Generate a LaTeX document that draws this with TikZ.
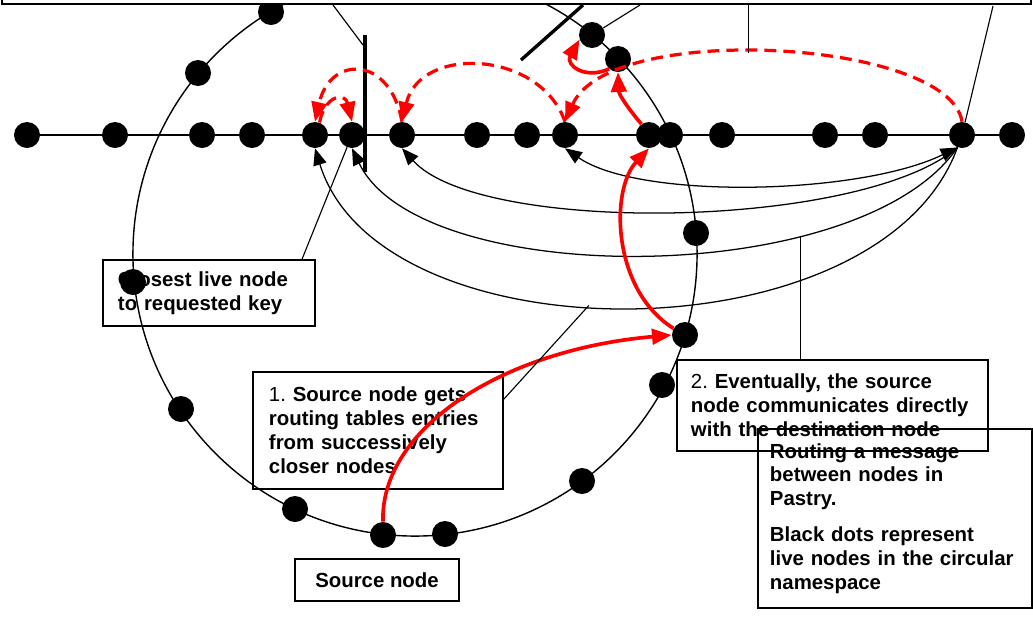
\documentclass[tikz,border=0pt]{standalone}
\usepackage{fontspec}
\setmainfont{Liberation Sans}
\usetikzlibrary{arrows.meta}
\tikzset{
  dot/.style={circle, fill=black, inner sep=0pt, minimum size=0.65cm},
  note/.style={draw, line width=1.2pt, align=left, inner xsep=0.375cm, inner ysep=0pt,
    font=\fontsize{14.5pt}{17pt}\selectfont\bfseries\frenchspacing},
  redline/.style={red, line width=2.6pt, >={Triangle[length=14pt,width=11pt]}},
  reddash/.style={red, line width=2.3pt, dash pattern=on 8.5pt off 5pt, >={Triangle[length=14pt,width=11pt]}},
  hop/.style={line width=0.9pt, >={Triangle[length=12pt,width=9.5pt]}},
  ptr/.style={line width=0.8pt},
  keymark/.style={line width=2.4pt}
}
\begin{document}
\begin{tikzpicture}[x=0.025cm, y=-0.025cm]
    \useasboundingbox (0,0) rectangle (1033,619);

    % 说明文字框
    \node[note, minimum width=5.3cm, minimum height=1.65cm, text width=4.55cm] (closest) at (209,293) {Closest live node\\to requested key};
    \node[note, minimum width=6.25cm, minimum height=2.925cm, text width=5.45cm] (step1) at (378,430.5) {{\mdseries 1.} Source node gets\\routing tables entries\\from successively\\closer nodes};
    \node[note, inner xsep=0.35cm, minimum width=7.775cm, minimum height=2.275cm, text width=7.075cm] (step2) at (832.5,405.5) {{\mdseries 2.} Eventually, the source\\node communicates directly\\with the destination node};
    \node[note, inner xsep=0.3cm, minimum width=6.85cm, minimum height=4.475cm, text width=6.25cm] (caption) at (895,518.5) {Routing a message\\between nodes in\\Pastry.\\[8.5pt]Black dots represent\\live nodes in the circular\\namespace};
    \node[note, align=center, minimum width=4.1cm, minimum height=1.05cm] (source) at (377,580) {Source node};

    % 环形名字空间
    \draw[line width=1pt] (415,254) circle[radius=7.05cm];

    % 请求的键的位置
    \draw[keymark] (365,35) -- (365,172);
    \draw[keymark] (583,5) -- (521,60);

    % 直线上的节点
    \foreach \x [count=\i] in {27,115,202,252,315,352,402,477,527,565,649,670,722,825,875,962,1012}
        \node[dot] (l\i) at (\x,135) {};
    \draw[line width=1.3pt] (l1) -- (l17);

    % 圆上的节点 (c6 为源节点)
    \foreach \cx/\cy [count=\i] in {271/12, 198/73, 133/282, 181/409, 295/509, 383/535, 445/534,
        582/481, 662/385, 685/335, 696/233, 618/59, 592/35}
        \node[dot] (c\i) at (\cx,\cy) {};

    % 上方的框
    \node[draw, fill=white, line width=1.2pt, minimum width=25.725cm, minimum height=1cm,
        anchor=south, inner sep=0pt] (topbox) at (516.5,5) {};

    % 源节点与目标节点直接通信
    \draw[hop, <->] (l16.250) .. controls (860,195) and (640,200) .. (l10.south);
    \draw[hop, ->] (l16.250) .. controls (860,230) and (480,235) .. (l7.south);
    \draw[hop, ->] (l16.250) .. controls (860,290) and (420,290) .. coordinate[pos=0.295] (cptr) (l6.south);
    \draw[hop, ->] (l16.250) .. controls (880,360) and (380,360) .. coordinate[pos=0.55] (dptr) (l5.south);

    % 逐步获取路由表
    \draw[redline, ->] (c6.north) .. controls (380,430) and (500,350) .. (c10.west);
    \draw[redline, ->] (c10.150) .. controls (612,290) and (610,190) .. (l11.south);
    \draw[redline, ->] (l11.125) .. controls (628,108) and (619,95) .. (c12.south);
    \draw[redline, ->] (c12.228) .. controls (585,80) and (565,65) .. (c13.200);

    % 虚线: 路由跳转
    \draw[reddash, ->] (l16.north) .. controls (950,40) and (610,20) .. coordinate[pos=0.55] (aptr) (l10.north);
    \draw[reddash, ->] (l10.north) .. controls (540,50) and (420,45) .. (l7.north);
    \draw[reddash, ->] (l7.north) .. controls (390,55) and (330,55) .. (l5.north);
    \draw[reddash, ->] (l5.70) .. controls (325,95) and (345,92) .. (l6.north);

    % 指示线
    \coordinate (t1) at (333,5);
    \coordinate (barp) at (363,45);
    \coordinate (t2) at (640,5);
    \coordinate (t3) at (993,6);
    \draw[ptr] (t1) -- (barp);
    \draw[ptr] (t2) -- (c13);
    \draw[ptr] (aptr) -- (aptr |- topbox.south);
    \draw[ptr] (t3) -- (l16);
    \draw[ptr] (closest.20) -- (l6);
    \draw[ptr] (step1.14) -- (dptr);
    \draw[ptr] (cptr) -- (cptr |- step2.north);
\end{tikzpicture}
\end{document}
